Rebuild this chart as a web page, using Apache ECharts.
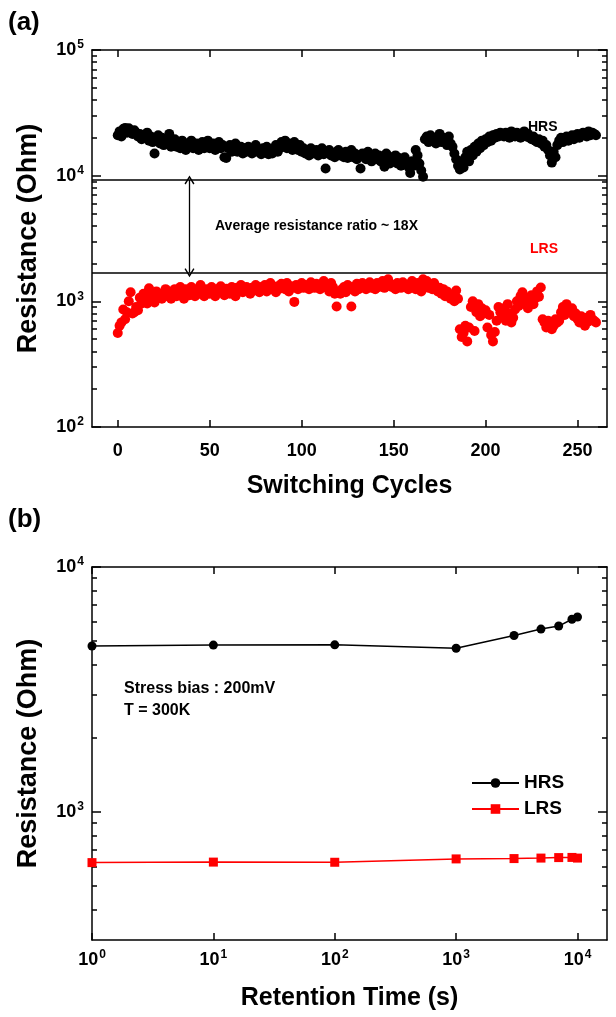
<!DOCTYPE html>
<html><head><meta charset="utf-8">
<script src="https://cdn.jsdelivr.net/npm/echarts@6/dist/echarts.min.js"></script>
<style>html,body{margin:0;padding:0;background:#fff}#c{width:616px;height:1017px}</style>
</head><body><div id="c"></div>
<script>
// ---------- Panel (a): switching cycles ----------
const hrsCycles = [
21000,22500,20500,23500,24000,22000,23800,22500,21500,23000,
22000,20500,21500,19500,21000,20000,22000,19000,20500,18500,
15000,19500,21000,18000,20000,17500,19500,18500,21500,17000,
18500,19500,17000,18000,16500,19000,17500,16000,18000,17000,
19000,16500,17500,18000,16000,17500,18500,16500,17000,19000,
16500,17500,18000,16000,17000,18500,16500,17500,14000,13800,
16500,17500,15500,16500,18000,15500,16000,17000,15000,16500,
15500,17000,16000,15000,16500,17500,15500,16000,14800,16500,
15500,17000,14800,16000,15000,16500,17500,15500,16500,18500,
17000,19000,16500,18000,17500,16000,18500,17000,16000,17500,
15500,16500,15000,16000,14500,16500,15000,15500,16000,14500,
15500,16500,14800,11400,15500,16000,14500,15000,14000,15500,
16000,14500,15000,14000,15500,13800,14500,16000,14000,15000,
13500,14500,11400,15000,14000,13500,15500,14000,13000,14500,
15000,13500,14500,13000,14000,11800,15000,13500,12500,14000,
13500,14500,12500,13800,12000,13000,14000,12500,11800,10500,
13000,12000,16000,14500,12500,11000,9800,19500,20500,18500,
21000,19000,20000,18000,19500,21500,18500,20000,19000,17500,
20500,18000,17000,15000,13500,12000,11200,13000,11600,14000,
15500,13000,16000,14500,17000,15500,18000,16500,19000,17500,
19500,18500,20500,19000,21000,20000,21500,20500,22000,21000,
20500,22000,21500,20000,22500,21000,20500,22000,21500,20000,
21000,22500,20500,21500,20000,19500,20500,19000,18500,19500,
18000,19000,17000,17500,16000,14500,12700,15500,14000,17500,
19000,20000,18500,19500,20500,19000,20000,21000,19500,20500,
21500,20000,21000,22000,21500,20500,22500,21000,22000,21500,
21000];
const lrsCycles = [
560,640,680,860,720,820,1000,1180,800,820,
900,850,1070,960,1150,1000,960,1270,1100,1050,
980,1200,1080,1150,1050,1160,1250,1100,1200,1050,
1150,1250,1100,1200,1300,1150,1050,1250,1180,1120,
1300,1200,1100,1250,1150,1350,1200,1100,1250,1180,
1150,1300,1220,1100,1250,1180,1320,1200,1120,1260,
1200,1150,1300,1230,1100,1280,1200,1350,1180,1250,
1300,1200,1150,1280,1220,1350,1250,1180,1300,1240,
1350,1200,1280,1400,1250,1300,1180,1320,1260,1380,
1300,1250,1400,1200,1320,1280,990,1350,1250,1300,
1400,1280,1350,1300,1250,1420,1320,1280,1380,1350,
1250,1300,1450,1320,1280,1200,1400,1300,1150,910,
1200,1150,1250,1300,1180,1350,1250,910,1300,1200,
1380,1250,1320,1400,1300,1250,1350,1420,1280,1330,
1250,1400,1300,1350,1450,1280,1320,1500,1380,1300,
1350,1250,1400,1320,1280,1420,1350,1300,1250,1380,
1450,1300,1250,1400,1350,1200,1500,1320,1450,1280,
1350,1250,1400,1300,1200,1280,1150,1250,1100,1200,
1150,1050,1100,1000,1220,1050,600,520,560,640,
480,620,900,1000,580,820,950,760,880,800,
850,620,780,540,480,570,700,900,820,760,
880,700,950,800,680,740,860,1000,920,1100,
1180,960,1050,880,1000,1120,950,1060,1200,1090,
1290,720,680,620,700,650,600,640,720,680,
700,820,900,780,950,860,820,880,760,800,
720,680,760,700,640,740,690,780,720,700,
680];
const cycleTicks = [0, 50, 100, 150, 200, 250];
const resMajorA = [100, 1000, 10000, 100000];
const resMinorA = [200,300,400,500,600,700,800,900,2000,3000,4000,5000,6000,7000,8000,9000,20000,30000,40000,50000,60000,70000,80000,90000];
const windowLevels = [9240, 1692];      // the two horizontal reference lines
const arrowCycle = 39;                  // x position of the double arrow

// ---------- Panel (b): retention ----------
const retentionTime = [1, 10, 100, 1000, 3000, 5000, 7000, 9000, 10000];
const hrsRetention = [4760, 4800, 4810, 4660, 5250, 5580, 5740, 6120, 6250];
const lrsRetention = [621, 624, 623, 643, 645, 648, 651, 652, 648];
const timeTicks = [1, 10, 100, 1000, 10000];
const resMajorB = [1000, 10000];
const resMinorB = [400,500,600,700,800,900,2000,3000,4000,5000,6000,7000,8000,9000];

const FF = '"Liberation Sans", Arial, sans-serif';
const BLK = '#000';
const supFmt = v => '{b|10}{s|' + Math.round(Math.log10(v)) + '}';
const supRich = {
  b: {fontFamily: FF, fontWeight: 'bold', fontSize: 18, color: BLK, lineHeight: 22},
  s: {fontFamily: FF, fontWeight: 'bold', fontSize: 12, color: BLK, verticalAlign: 'top', lineHeight: 22, padding: [0,0,6,1]}
};
const line = {show: true, onZero: false, lineStyle: {color: BLK, width: 1.5}};
const noLine = {show: false, onZero: false};

function xAxes(grid, type, min, max, ticks, name, fmt, gap) {
  const base = {gridIndex: grid, type: type, min: min, max: max, splitLine: {show: false}};
  if (type === 'log') base.logBase = 10;
  return [
    Object.assign({}, base, {
      position: 'bottom', axisLine: line,
      axisTick: {show: true, inside: true, length: 7, customValues: ticks, lineStyle: {color: BLK, width: 1.5}},
      axisLabel: {show: true, customValues: ticks, margin: fmt ? 9 : 15, formatter: fmt || undefined,
        rich: fmt ? supRich : undefined,
        fontFamily: FF, fontWeight: 'bold', fontSize: 18, color: BLK},
      name: name, nameLocation: 'middle', nameGap: gap,
      nameTextStyle: {fontFamily: FF, fontWeight: 'bold', fontSize: 25, color: BLK}
    }),
    Object.assign({}, base, {
      position: 'top', axisLine: line,
      axisTick: {show: true, inside: true, length: 7, customValues: ticks, lineStyle: {color: BLK, width: 1.5}},
      axisLabel: {show: false}
    })
  ];
}
function yAxes(grid, min, max, major, minor, name) {
  const base = {gridIndex: grid, type: 'log', logBase: 10, min: min, max: max, splitLine: {show: false}};
  return [
    Object.assign({}, base, {
      position: 'left', axisLine: line,
      axisTick: {show: true, inside: true, length: 9, customValues: major, lineStyle: {color: BLK, width: 1.5}},
      axisLabel: {show: true, customValues: major, margin: 8, formatter: supFmt, rich: supRich},
      name: name, nameLocation: 'middle', nameGap: 50, nameRotate: 90,
      nameTextStyle: {fontFamily: FF, fontWeight: 'bold', fontSize: 27, color: BLK}
    }),
    Object.assign({}, base, {
      position: 'left', axisLine: noLine,
      axisTick: {show: true, inside: true, length: 5, customValues: minor, lineStyle: {color: BLK, width: 1.5}},
      axisLabel: {show: false}
    }),
    Object.assign({}, base, {
      position: 'right', axisLine: line,
      axisTick: {show: true, inside: true, length: 9, customValues: major, lineStyle: {color: BLK, width: 1.5}},
      axisLabel: {show: false}
    }),
    Object.assign({}, base, {
      position: 'right', axisLine: noLine,
      axisTick: {show: true, inside: true, length: 5, customValues: minor, lineStyle: {color: BLK, width: 1.5}},
      axisLabel: {show: false}
    })
  ];
}

const chevron = 'path://M5,0 L10,9 L8.8,10 L5,3 L1.2,10 L0,9 Z';

const option = {
  backgroundColor: '#fff',
  animation: false,
  grid: [
    {left: 92, right: 9, top: 50, height: 377},
    {left: 92, right: 9, top: 567, height: 373}
  ],
  xAxis: [].concat(
    xAxes(0, 'value', -14, 266, cycleTicks, 'Switching Cycles', null, 47),
    xAxes(1, 'log', 1, 17500, timeTicks, 'Retention Time (s)', supFmt, 46)
  ),
  yAxis: [].concat(
    yAxes(0, 100, 100000, resMajorA, resMinorA, 'Resistance (Ohm)'),
    yAxes(1, 300, 10000, resMajorB, resMinorB, 'Resistance (Ohm)')
  ),
  legend: {
    data: ['HRS', 'LRS'], orient: 'vertical', left: 466, top: 768,
    itemWidth: 47, itemHeight: 12, itemGap: 6,
    textStyle: {fontFamily: FF, fontWeight: 'bold', fontSize: 19, color: BLK, lineHeight: 20}
  },
  graphic: [
    {type: 'text', left: 8, top: 10, style: {text: '(a)', fontFamily: FF, fontWeight: 'bold', fontSize: 26, fill: BLK}},
    {type: 'text', left: 8, top: 507, style: {text: '(b)', fontFamily: FF, fontWeight: 'bold', fontSize: 26, fill: BLK}},
    {type: 'text', left: 215, top: 219, style: {text: 'Average resistance ratio ~ 18X', fontFamily: FF, fontWeight: 'bold', fontSize: 14, fill: BLK}},
    {type: 'text', left: 528, top: 120, style: {text: 'HRS', fontFamily: FF, fontWeight: 'bold', fontSize: 14, fill: BLK}},
    {type: 'text', left: 530, top: 242, style: {text: 'LRS', fontFamily: FF, fontWeight: 'bold', fontSize: 14, fill: '#ff0000'}},
    {type: 'text', left: 124, top: 678, style: {text: 'Stress bias : 200mV\nT = 300K', fontFamily: FF, fontWeight: 'bold', fontSize: 16, lineHeight: 22, fill: BLK}}
  ],
  series: [
    {
      name: 'hrsCycles', type: 'scatter', xAxisIndex: 0, yAxisIndex: 0,
      data: hrsCycles.map((v, i) => [i, v]), symbolSize: 10,
      itemStyle: {color: BLK, opacity: 1},
      markLine: {
        silent: true, symbol: 'none', label: {show: false},
        lineStyle: {color: BLK, width: 1.5, type: 'solid'},
        data: windowLevels.map(v => ({yAxis: v}))
      }
    },
    {
      name: 'lrsCycles', type: 'scatter', xAxisIndex: 0, yAxisIndex: 0,
      data: lrsCycles.map((v, i) => [i, v]), symbolSize: 10,
      itemStyle: {color: '#ff0000', opacity: 1},
      markLine: {
        silent: true, symbol: [chevron, chevron], symbolSize: [10, 9], label: {show: false},
        lineStyle: {color: BLK, width: 1.3, type: 'solid'},
        data: [[{coord: [arrowCycle, windowLevels[0]]}, {coord: [arrowCycle, windowLevels[1]]}]]
      }
    },
    {
      name: 'HRS', type: 'line', xAxisIndex: 2, yAxisIndex: 4,
      data: retentionTime.map((t, i) => [t, hrsRetention[i]]),
      symbol: 'circle', symbolSize: 9, showAllSymbol: true,
      itemStyle: {color: BLK}, lineStyle: {color: BLK, width: 1.5}
    },
    {
      name: 'LRS', type: 'line', xAxisIndex: 2, yAxisIndex: 4,
      data: retentionTime.map((t, i) => [t, lrsRetention[i]]),
      symbol: 'rect', symbolSize: 9, showAllSymbol: true,
      itemStyle: {color: '#ff0000'}, lineStyle: {color: '#ff0000', width: 1.5}
    }
  ]
};
const chart = echarts.init(document.getElementById('c'), null, {renderer: 'canvas'});
chart.setOption(option);
</script>
</body></html>
